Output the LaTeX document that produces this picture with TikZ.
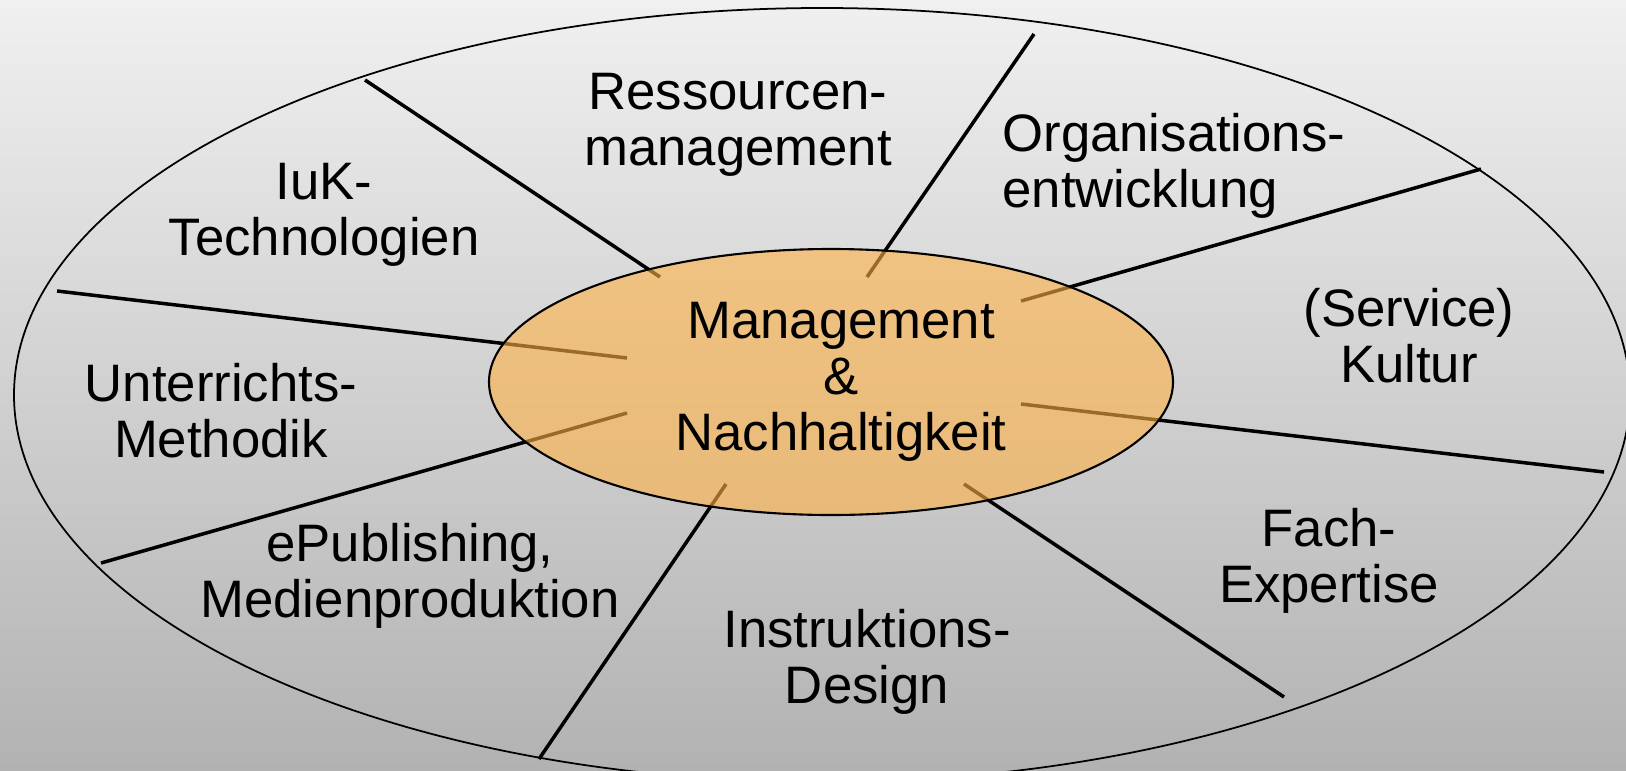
\documentclass[tikz,border=0pt]{standalone}
\usepackage{fontspec}
\setmainfont{Liberation Sans}
\definecolor{bgtop}{RGB}{240,240,240}
\definecolor{bgbottom}{RGB}{178,178,178}
\definecolor{corefill}{RGB}{255,178,70}
\tikzset{
  label/.style={align=center, font=\fontsize{15}{16}\selectfont},
  divider/.style={line width=1pt, black},
}
\begin{document}
\begin{tikzpicture}
    % Background
    \useasboundingbox (0,0) rectangle (16.26,7.70);
    \clip (0,0) rectangle (16.26,7.70);
    \shade[top color=bgtop, bottom color=bgbottom] (0,0) rectangle (16.26,7.70);

    % Outer ellipse
    \draw[line width=0.5pt] (8.22,3.75) ellipse (8.08 and 3.87);

    % Draw dividers
    \foreach \sx/\sy/\ex/\ey in {3.65/6.90/6.60/4.93, 10.34/7.36/8.67/4.93,
                                 14.81/6.01/10.21/4.69, 10.21/3.66/16.04/2.98,
                                 9.64/2.86/12.84/0.73, 7.26/2.86/5.39/0.11,
                                 6.27/3.57/1.01/2.07, 6.27/4.12/0.57/4.79} {
        \draw[divider] (\sx,\sy) -- (\ex,\ey);
      }

    % Inner ellipse
    \fill[corefill, fill opacity=0.6] (8.31,3.88) ellipse (3.42 and 1.33);
    \draw[line width=0.6pt] (8.31,3.88) ellipse (3.42 and 1.33);
    \node[label] (core) at (8.41,3.88) {Management\\\&\\Nachhaltigkeit};

    % Draw segment labels
    \node[label] (res) at (7.38,6.45) {Ressourcen-\\management};
    \node[label] (iuk) at (3.24,5.55) {IuK-\\Technologien};
    \node[label, align=left, anchor=west] (org) at (9.90,6.04) {Organisations-\\entwicklung};
    \node[label] (kul) at (14.09,4.34) {(Service)\\Kultur};
    \node[label] (unt) at (2.21,3.59) {Unterrichts-\\Methodik};
    \node[label] (epu) at (4.10,1.94) {ePublishing,\\Medienproduktion};
    \node[label] (ins) at (8.67,1.08) {Instruktions-\\Design};
    \node[label] (fac) at (13.29,2.09) {Fach-\\Expertise};
  \end{tikzpicture}
\end{document}
